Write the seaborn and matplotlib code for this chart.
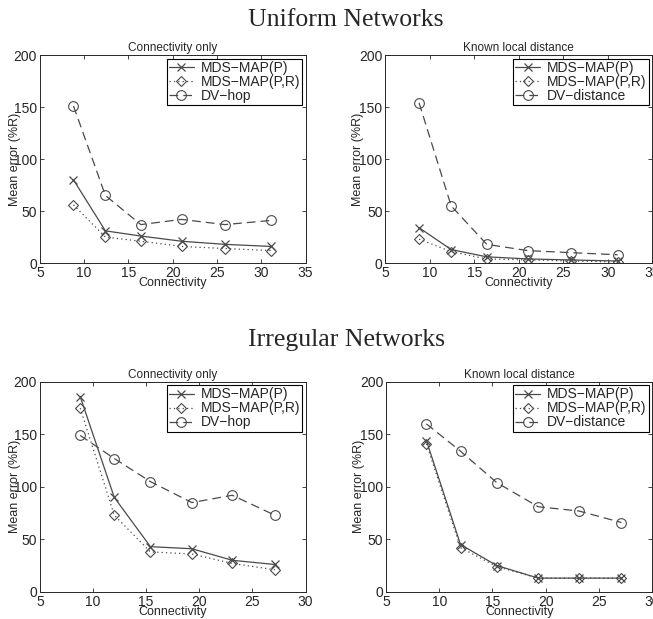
import matplotlib
matplotlib.use('Agg')
import pandas as pd
import seaborn as sns
import matplotlib.pyplot as plt

# uniform networks
uni_conn = [8.8, 12.4, 16.4, 21.0, 25.9, 31.1]
uni_p_conn = [80, 31, 26, 21, 18, 16]
uni_pr_conn = [56, 25, 21, 16, 14, 12]
uni_dvhop = [151, 65, 37, 42, 37, 41]
uni_p_dist = [34, 13, 6, 4, 3, 2]
uni_pr_dist = [23, 11, 4, 3, 2, 1]
uni_dvdist = [154, 55, 18, 12, 10, 8]

# irregular networks
irr_conn = [8.8, 12.0, 15.4, 19.3, 23.1, 27.1]
irr_p_conn = [186, 90, 43, 41, 30, 26]
irr_pr_conn = [175, 73, 38, 36, 27, 21]
irr_dvhop = [149, 127, 105, 85, 92, 73]
irr_p_dist = [144, 45, 25, 13, 13, 13]
irr_pr_dist = [141, 42, 24, 13, 13, 13]
irr_dvdist = [160, 134, 104, 81, 77, 66]

sns.set_style("ticks")
plt.rcParams['font.family'] = ['Liberation Sans', 'DejaVu Sans']
plt.rcParams['xtick.direction'] = 'in'
plt.rcParams['ytick.direction'] = 'in'
plt.rcParams['xtick.top'] = True
plt.rcParams['ytick.right'] = True

fig = plt.figure(figsize=(6.53, 6.19), dpi=100)
gray = '#4a4a4a'

panels = [
    ([0.061, 0.575, 0.407, 0.336], uni_conn, uni_p_conn, uni_pr_conn, uni_dvhop, 'DV\u2212hop', 'Connectivity only', 35, -0.094),
    ([0.590, 0.575, 0.409, 0.336], uni_conn, uni_p_dist, uni_pr_dist, uni_dvdist, 'DV\u2212distance', 'Known local distance', 35, -0.101),
    ([0.061, 0.044, 0.407, 0.339], irr_conn, irr_p_conn, irr_pr_conn, irr_dvhop, 'DV\u2212hop', 'Connectivity only', 30, -0.094),
    ([0.591, 0.044, 0.408, 0.339], irr_conn, irr_p_dist, irr_pr_dist, irr_dvdist, 'DV\u2212distance', 'Known local distance', 30, -0.101),
]

for pos, xs, p, pr, dv, dvname, title, xmax, ylab_x in panels:
    ax = fig.add_axes(pos)
    df = pd.DataFrame({'Connectivity': xs, 'p': p, 'pr': pr, 'dv': dv})
    sns.lineplot(data=df, x='Connectivity', y='p', ax=ax, color=gray, lw=0.9,
                 marker='x', markersize=5.5, mec=gray, mew=0.9, label='MDS\u2212MAP(P)')
    sns.lineplot(data=df, x='Connectivity', y='pr', ax=ax, color=gray, lw=0.9,
                 linestyle=(0, (1, 2.5)), marker='D', markersize=5, mfc='none',
                 mec=gray, mew=0.8, label='MDS\u2212MAP(P,R)')
    sns.lineplot(data=df, x='Connectivity', y='dv', ax=ax, color=gray, lw=0.9,
                 linestyle=(0, (7, 4)), marker='o', markersize=7, mfc='none',
                 mec=gray, mew=0.8, label=dvname)
    ax.set_xlim(5, xmax)
    ax.set_ylim(0, 200)
    ax.set_yticks([0, 50, 100, 150, 200])
    ax.set_xticks(range(5, xmax + 1, 5))
    ax.tick_params(labelsize=10, length=3, width=0.6, pad=2)
    for s in ax.spines.values():
        s.set_linewidth(0.7)
    ax.set_title(title, fontsize=8.5, pad=3)
    ax.set_xlabel('Connectivity', fontsize=9)
    ax.xaxis.label.set_va('center')
    ax.xaxis.set_label_coords(0.5, -0.095)
    ax.set_ylabel('Mean error (%R)', fontsize=9)
    ax.yaxis.label.set_va('center')
    ax.yaxis.set_label_coords(ylab_x, 0.5)
    leg = ax.legend(loc='upper right', fontsize=10, fancybox=False, framealpha=1,
                    edgecolor='black', borderaxespad=0.25, handlelength=1.8,
                    borderpad=0.15, labelspacing=0.0, handletextpad=0.5)
    leg.get_frame().set_linewidth(0.8)

fig.text(0.53, 0.968, 'Uniform Networks', ha='center', va='center',
         fontsize=18.5, family='Liberation Serif')
fig.text(0.53, 0.451, 'Irregular Networks', ha='center', va='center',
         fontsize=18.5, family='Liberation Serif')

plt.savefig('out.png', dpi=100)
